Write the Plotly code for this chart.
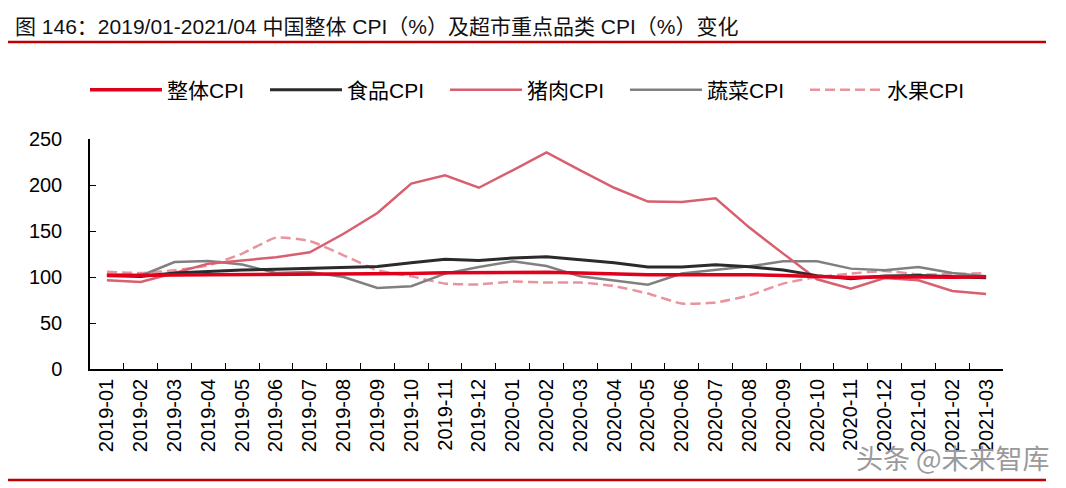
import plotly.graph_objects as go

# months on the x axis
months = ['2019-01', '2019-02', '2019-03', '2019-04', '2019-05', '2019-06', '2019-07',
          '2019-08', '2019-09', '2019-10', '2019-11', '2019-12', '2020-01', '2020-02',
          '2020-03', '2020-04', '2020-05', '2020-06', '2020-07', '2020-08', '2020-09',
          '2020-10', '2020-11', '2020-12', '2021-01', '2021-02', '2021-03']

# series values
overall_cpi = [101.5, 101.5, 102.3, 102.5, 102.7, 102.7, 102.8, 102.8, 103.0, 103.8, 104.5, 104.5,
               105.4, 105.2, 104.3, 103.3, 102.4, 102.5, 102.7, 102.4, 101.7, 100.5, 99.5, 100.2,
               99.7, 99.8, 100.4]
food_cpi = [101.5, 100.5, 104.4, 106.2, 107.7, 108.3, 109.1, 110.0, 111.3, 115.6, 119.2, 117.8,
            120.7, 122.1, 118.9, 115.6, 110.9, 111.0, 113.2, 111.2, 107.5, 101.5, 98.0, 101.2,
            101.5, 100.0, 99.2]
pork_cpi = [96.4, 94.6, 104.4, 114.5, 118.0, 121.4, 126.8, 147.0, 169.6, 201.5, 210.5, 197.0,
            216.0, 235.5, 216.0, 197.0, 182.0, 181.5, 185.5, 153.7, 125.4, 97.5, 87.4, 98.9,
            96.4, 84.8, 81.5]
veg_cpi = [103.0, 101.5, 116.3, 117.4, 113.5, 104.4, 105.4, 100.0, 88.0, 89.9, 103.7, 110.9,
           117.0, 112.0, 100.7, 96.4, 91.7, 103.7, 108.0, 111.6, 117.0, 117.0, 109.1, 107.3,
           110.9, 104.4, 100.7]
fruit_cpi = [105.8, 104.4, 107.3, 112.7, 125.4, 142.8, 139.1, 123.6, 107.3, 100.7, 92.8, 92.0,
             95.0, 94.0, 94.0, 90.2, 82.0, 71.1, 72.2, 80.1, 92.8, 100.0, 103.7, 106.5,
             103.0, 103.0, 104.4]

FONT = 'Liberation Sans, Arial, Noto Sans CJK SC'

# the page body has an 8px margin, so the figure starts at (8, 8) in the screenshot
OFF = 8
W, H = 1066 - OFF, 488 - OFF
L, R, T, B = 90, 1003, 139, 369   # plot area in screenshot pixels


def px(x):
    return (x - L) / (R - L)


def py(y):
    return (B - y) / (B - T)


fig = go.Figure()

# draw order: overall on top of the others
fig.add_scatter(x=months, y=fruit_cpi, mode='lines', name='水果CPI',
                line=dict(color='#E8939E', width=2.5, dash='10px,5px', shape='spline', smoothing=0.5))
fig.add_scatter(x=months, y=veg_cpi, mode='lines', name='蔬菜CPI',
                line=dict(color='#808080', width=2.5))
fig.add_scatter(x=months, y=pork_cpi, mode='lines', name='猪肉CPI',
                line=dict(color='#D85F6E', width=2.5))
fig.add_scatter(x=months, y=food_cpi, mode='lines', name='食品CPI',
                line=dict(color='#2B2B2B', width=3))
fig.add_scatter(x=months, y=overall_cpi, mode='lines', name='整体CPI',
                line=dict(color='#E0001B', width=3.5))

fig.update_layout(
    width=W, height=H,
    margin=dict(l=L - OFF, r=W - (R - OFF), t=T - OFF, b=H - (B - OFF), autoexpand=False),
    paper_bgcolor='white', plot_bgcolor='white',
    font=dict(family=FONT, size=19, color='black'),
    showlegend=True,
    legend=dict(orientation='h', traceorder='reversed',
                x=px(85), y=py(90), xanchor='left', yanchor='middle',
                entrywidth=93, entrywidthmode='pixels', itemwidth=72,
                font=dict(family=FONT, size=21)),
)

fig.update_xaxes(type='category', range=[-0.5, 26.5], tickangle=-90,
                 showline=True, linecolor='black', linewidth=1.5,
                 ticks='inside', tickson='boundaries', ticklen=6, tickcolor='black',
                 showgrid=False, tickfont=dict(size=20))
fig.update_yaxes(range=[0, 250], dtick=50, showline=True, linecolor='black', linewidth=1.5,
                 ticks='inside', ticklen=6, tickcolor='black', showgrid=False,
                 zeroline=False, ticklabelstandoff=22, tickfont=dict(size=20))

# title and red rules
fig.add_annotation(text='图 146：2019/01-2021/04 中国整体 CPI（%）及超市重点品类 CPI（%）变化',
                   xref='paper', yref='paper', x=px(13), y=py(27),
                   xanchor='left', yanchor='middle', showarrow=False,
                   font=dict(family=FONT, size=21, color='#111111'))
fig.add_shape(type='line', xref='paper', yref='paper',
              x0=px(8), x1=px(1046), y0=py(42), y1=py(42),
              line=dict(color='#C00000', width=2.5))
fig.add_shape(type='line', xref='paper', yref='paper',
              x0=px(OFF), x1=px(1046), y0=py(480), y1=py(480),
              line=dict(color='#C00000', width=2.5))

# watermark
fig.add_annotation(text='头条 @未来智库', xref='paper', yref='paper',
                   x=px(1052), y=py(457), xanchor='right', yanchor='middle', showarrow=False,
                   font=dict(family='Noto Sans CJK SC', size=27, color='#9a9a9a'))

fig.write_html('out.html')
